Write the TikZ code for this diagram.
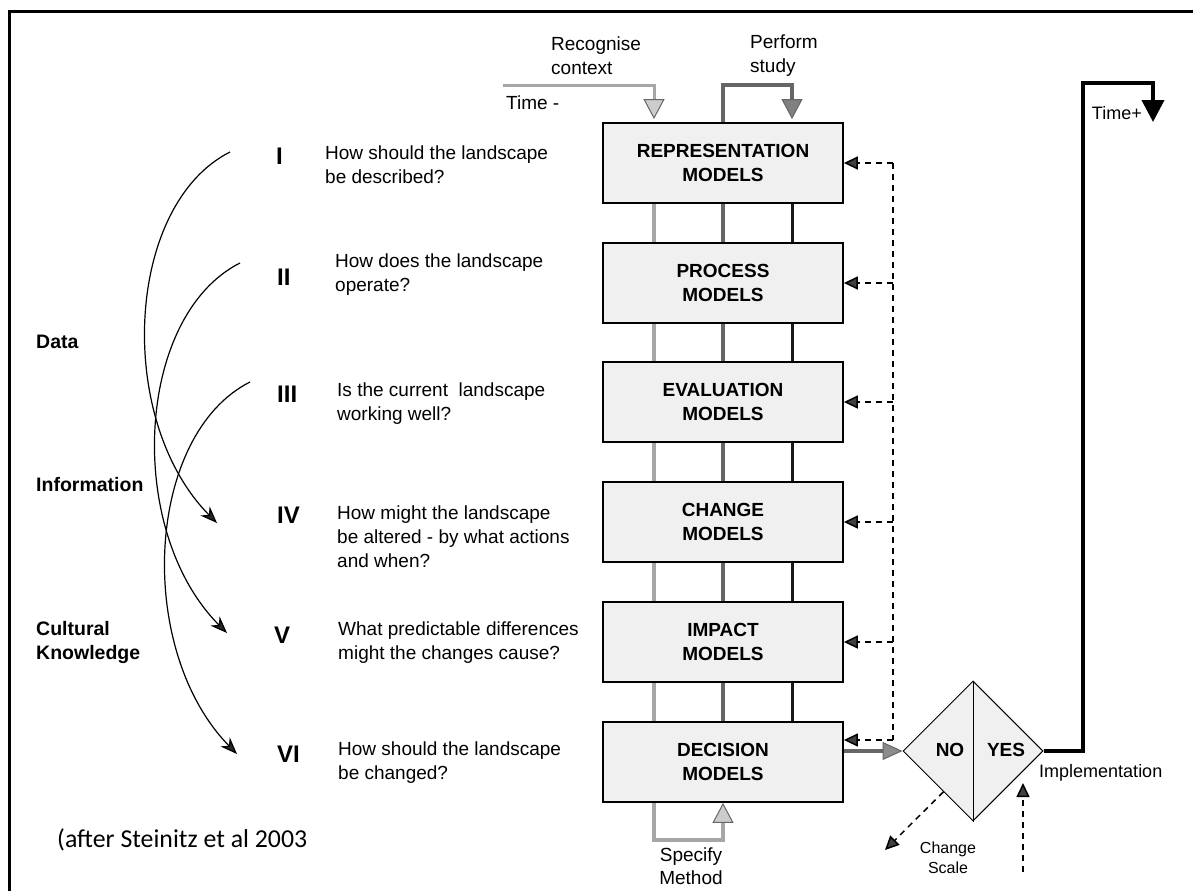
\documentclass[tikz,border=0pt]{standalone}
\usepackage{fontspec}
\setmainfont{Liberation Sans}
\newfontfamily\calfont{Carlito}
\usetikzlibrary{arrows.meta,shapes.geometric,calc}
\begin{document}
\begin{tikzpicture}[x=1pt,y=-1pt,
  model/.style={draw=black,line width=1.8pt,fill=black!6,minimum width=240pt,minimum height=80pt,inner sep=0pt,align=center,font=\fontsize{19}{24}\selectfont\bfseries},
  q/.style={anchor=west,align=left,inner sep=0pt,font=\fontsize{19}{24}\selectfont},
  num/.style={anchor=west,inner sep=0pt,font=\fontsize{24}{28}\selectfont\bfseries},
  lab/.style={anchor=west,align=left,inner sep=0pt,font=\fontsize{19.5}{24}\selectfont\bfseries},
  lightline/.style={draw=black!35,line width=4pt},
  midline/.style={draw=black!60,line width=3.5pt},
  darkline/.style={draw=black!90,line width=3pt},
  dashline/.style={draw=black,line width=1.5pt,dash pattern=on 6pt off 5pt},
  dasharr/.style={dashline,-{Triangle[width=13pt,length=14pt,fill=black!75,color=black]}},
  curvearr/.style={draw=black,line width=1.2pt,-{Stealth[width=13pt,length=17pt,fill=black!85]}},
  bigtip/.style={-{Triangle[width=21pt,length=20pt,fill=#1,color=black!60,line width=1pt]}},
]
\useasboundingbox (0,0) rectangle (1193,891);
% frame
\draw[line width=3pt] (9,891) -- (9,12) -- (1193,12);

% model boxes
\node[model] (r1) at (723,163) {REPRESENTATION\\MODELS};
\node[model] (r2) at (723,283) {PROCESS\\MODELS};
\node[model] (r3) at (723,402) {EVALUATION\\MODELS};
\node[model] (r4) at (723,522) {CHANGE\\MODELS};
\node[model] (r5) at (723,642) {IMPACT\\MODELS};
\node[model] (r6) at (723,762) {DECISION\\MODELS};

\foreach \a/\b in {r1/r2,r2/r3,r3/r4,r4/r5,r5/r6} {
  \draw[lightline] ([xshift=-69pt]\a.south) -- ([xshift=-69pt]\b.north);
  \draw[midline] (\a.south) -- (\b.north);
  \draw[darkline] ([xshift=69pt]\a.south) -- ([xshift=69pt]\b.north);
}

% top inputs
\coordinate (tm) at (503,85);
\coordinate (tmc) at (654,85);
\draw[lightline,line width=3pt,bigtip=black!20] (tm) -- (tmc) -- ([xshift=-69pt,yshift=3pt]r1.north);
\coordinate (pa) at (723,85);
\coordinate (pb) at (792,85);
\draw[midline,bigtip=black!50] (r1.north) -- (pa) -- (pb) -- ([xshift=69pt,yshift=3pt]r1.north);

% specify method loop
\coordinate (sa) at (654,840);
\coordinate (sb) at (723,840);
\draw[lightline,bigtip=black!20] ([xshift=-69pt]r6.south) -- (sa) -- (sb) -- (r6.south);

% decision diamond
\node[diamond,draw=black,line width=1pt,fill=black!6,minimum width=140pt,minimum height=140pt,inner sep=0pt] (dm) at (973,751) {};
\draw[line width=1pt] (dm.north) -- (dm.south);
\node[inner sep=0pt,font=\fontsize{19}{24}\selectfont\bfseries] (no) at (950,750) {NO};
\node[inner sep=0pt,font=\fontsize{19}{24}\selectfont\bfseries] (yes) at (1006,750) {YES};
\draw[midline,-{Triangle[width=18pt,length=20pt,fill=black!45,color=black!60,line width=1pt]}] ([yshift=11pt]r6.east) -- (dm.west);

% feedback dashed
\coordinate (fbt) at ([xshift=49pt]r1.east);
\coordinate (fbb) at ([xshift=49pt,yshift=22pt]r6.east);
\draw[dashline] (fbt) -- (fbb);
\foreach \r in {r1,r2,r3,r4,r5} \draw[dasharr] ([xshift=49pt]\r.east) -- (\r.east);
\draw[dasharr] (fbb) -- ([yshift=22pt]r6.east);

% yes / implementation path
\coordinate (y1) at (1083,751);
\coordinate (y2) at (1083,83);
\coordinate (y3) at (1153,83);
\coordinate (y4) at (1153,122);
\draw[line width=4pt,-{Triangle[width=22pt,length=22pt]}] (dm.east) -- (y1) -- (y2) -- (y3) -- (y4);

% change scale & implementation dashed arrows
\coordinate (csa) at ($(dm.west)!0.58!(dm.south)$);
\coordinate (csb) at (885,850);
\draw[dasharr] (csa) -- (csb);
\coordinate (ima) at (1023,872);
\coordinate (imb) at (1023,783);
\draw[dasharr] (ima) -- (imb);

% labels
\node[q] (tr) at (551,56) {Recognise\\context};
\node[q] (tp) at (750,56) {Perform\\study};
\node[q] (tmin) at (506,103) {Time -};
\node[anchor=east,inner sep=0pt,font=\fontsize{18}{22}\selectfont] (tplus) at (1142,113) {Time+};
\node[anchor=west,inner sep=0pt,font=\fontsize{18}{22}\selectfont] (impl) at (1039,773) {Implementation};
\node[align=center,inner sep=0pt,font=\fontsize{16}{20}\selectfont] (cs) at (948,858) {Change\\Scale};
\node[align=center,inner sep=0pt,font=\fontsize{19}{23}\selectfont] (sm) at (691,866) {Specify\\Method};
\node[anchor=west,inner sep=0pt,font=\calfont\fontsize{25.8}{30}\selectfont] (cap) at (57,840) {(after Steinitz et al 2003};

% numerals
\node[num] (n1) at (276,156) {I};
\node[num] (n2) at (277,277) {II};
\node[num] (n3) at (277,394) {III};
\node[num] (n4) at (277,515) {IV};
\node[num] (n5) at (274,635) {V};
\node[num] (n6) at (277,754) {VI};

% questions
\node[q] (q1) at (325,165) {How should the landscape\\be described?};
\node[q] (q2) at (335,275) {How does the landscape\\operate?};
\node[q] (q3) at (337,404) {Is the current\ \ landscape\\working well?};
\node[q] (q4) at (337,537) {How might the landscape\\be altered - by what actions\\and when?};
\node[q] (q5) at (338,643) {What predictable differences\\might the changes cause?};
\node[q] (q6) at (338,763) {How should the landscape\\be changed?};

% side labels
\node[lab] (data) at (36,342) {Data};
\node[lab] (info) at (36,485) {Information};
\node[lab] (cult) at (36,642) {Cultural\\Knowledge};

% curved arrows
\coordinate (c1s) at (230,152);
\coordinate (c1e) at (217,523);
\coordinate (c2s) at (240,263);
\coordinate (c2e) at (227,633);
\coordinate (c3s) at (250,382);
\coordinate (c3e) at (237,754);
\draw[curvearr] (c1s) .. controls (125,205) and (115,420) .. (c1e);
\draw[curvearr] (c2s) .. controls (135,316) and (125,531) .. (c2e);
\draw[curvearr] (c3s) .. controls (145,435) and (135,650) .. (c3e);
\end{tikzpicture}
\end{document}
